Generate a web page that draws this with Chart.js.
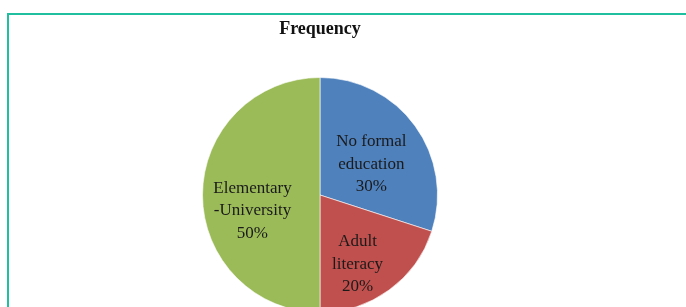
<!DOCTYPE html>
<html>
<head>
<meta charset="utf-8">
<script src="https://cdn.jsdelivr.net/npm/chart.js@4.4.1/dist/chart.umd.min.js"></script>
<style>
    html, body { margin: 0; padding: 0; background: #fff; overflow: hidden; }
    #frame { position: absolute; left: 7px; top: 13px; width: 700px; height: 320px; border-top: 2px solid #1fbf9f; border-left: 2px solid #1fbf9f; }
    #wrap { position: absolute; left: 0; top: 0; width: 686px; height: 340px; }
</style>
</head>
<body>
<div id="frame"></div>
<div id="wrap"><canvas id="pieChart" width="686" height="340"></canvas></div>
<script>
// data
const categories = ['No formal education', 'Adult literacy', 'Elementary -University'];
const labelLines = [['No formal', 'education'], ['Adult', 'literacy'], ['Elementary', '-University']];
const frequency = [30, 20, 50];
const sliceColors = ['#4f81bd', '#c0504d', '#9bbb59'];

// where each label sits inside its slice (fraction of radius, angle shift in degrees)
const labelPlacement = [
    { r: 0.51, shift: 5 },
    { r: 0.67, shift: 7.5 },
    { r: 0.59, shift: -13 }
];

const sliceLabels = {
    id: 'sliceLabels',
    afterDatasetsDraw(chart) {
        const ctx = chart.ctx;
        const meta = chart.getDatasetMeta(0);
        const total = frequency.reduce((a, b) => a + b, 0);
        ctx.save();
        ctx.font = '17px "Liberation Serif", "Times New Roman", serif';
        ctx.fillStyle = '#1a1a1a';
        ctx.textAlign = 'center';
        ctx.textBaseline = 'middle';
        meta.data.forEach((arc, i) => {
            const p = labelPlacement[i];
            const mid = (arc.startAngle + arc.endAngle) / 2 + p.shift * Math.PI / 180;
            const x = arc.x + Math.cos(mid) * arc.outerRadius * p.r;
            const y = arc.y + Math.sin(mid) * arc.outerRadius * p.r;
            const lines = labelLines[i].concat([Math.round(frequency[i] / total * 100) + '%']);
            const lh = 22.5;
            lines.forEach((t, k) => {
                ctx.fillText(t, x, y + (k - (lines.length - 1) / 2) * lh);
            });
        });
        ctx.restore();
    }
};

document.addEventListener('DOMContentLoaded', function () {
    const ctx = document.getElementById('pieChart').getContext('2d');
    new Chart(ctx, {
        type: 'pie',
        data: {
            labels: categories,
            datasets: [{
                data: frequency,
                backgroundColor: sliceColors,
                borderColor: 'rgba(255,255,255,0.6)',
                borderWidth: 1
            }]
        },
        options: {
            responsive: false,
            animation: false,
            layout: { padding: { left: 202, right: 248, top: 0, bottom: 27 } },
            plugins: {
                legend: { display: false },
                tooltip: { enabled: false },
                title: {
                    display: true,
                    text: 'Frequency',
                    color: '#111',
                    font: { family: '"Liberation Serif", "Times New Roman", serif', size: 18, weight: 'bold', lineHeight: 1.2 },
                    padding: { top: 19, bottom: 36.4 }
                }
            }
        },
        plugins: [sliceLabels]
    });
});
</script>
</body>
</html>
